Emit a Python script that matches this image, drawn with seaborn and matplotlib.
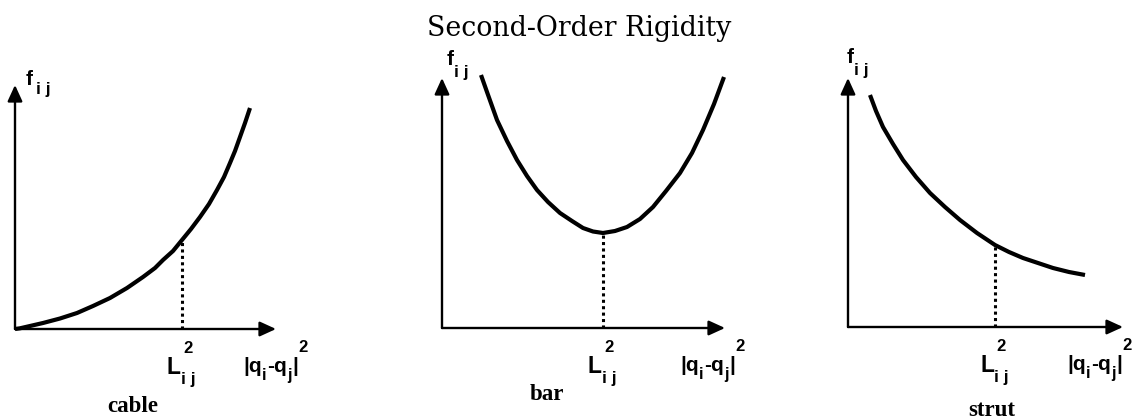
import matplotlib
matplotlib.use("Agg")
import matplotlib.pyplot as plt
import pandas as pd
import seaborn as sns

# Force response of each member type, in schematic units from the panel origin
cable_sep = [0, 5, 15, 28, 45, 62, 78, 95, 112, 128, 140, 148, 158, 167,
             176, 185, 194, 202, 209, 215, 220, 225, 230, 235]
cable_force = [0, 0.7, 3, 6, 10.5, 16, 23, 31, 41, 52, 61, 69, 78, 89,
               100, 112, 125, 139, 152, 166, 178, 192, 206, 221]

bar_sep = [39, 45, 55, 65, 75, 85, 95, 106, 118, 130, 141, 151, 161, 173,
           185, 198, 211, 224, 238, 250, 261, 272, 282]
bar_force = [253, 236, 208, 187, 168, 152, 138, 126, 115, 107, 100, 96.5, 95, 97,
             101, 109, 121, 137, 155, 175, 198, 224, 251]

strut_sep = [22, 28, 35, 45, 55, 68, 82, 97, 112, 129, 147, 161, 175, 190,
             205, 221, 237]
strut_force = [232, 216, 200, 183, 167, 150, 134, 120, 107, 94, 82, 75, 69, 64,
               59, 55, 52]

# squared rest length of each member (marked by the dotted line)
rest_sq = [167, 161, 147]
member_names = ["cable", "bar", "strut"]

title = "Second-Order Rigidity"

sns.set_theme(style="white")
LABEL_FONT = dict(family="Liberation Sans", weight="bold", color="black")

W, H = 1133, 420
fig = plt.figure(figsize=(W / 100, H / 100), dpi=100)
fig.patch.set_facecolor("white")

# panel geometry in pixels: axis origin and arrow lengths, plus label anchors
layout = [
    dict(origin=(15, 329), size=(261, 244), f_pos=(11, 244), f_sub=(10, -9),
         q_x=228, name_pos=(118, -78)),
    dict(origin=(442, 328), size=(283, 250), f_pos=(5, 263), f_sub=(7, -12),
         q_x=238, name_pos=(105, -67)),
    dict(origin=(848, 327), size=(275, 249), f_pos=(-1, 264), f_sub=(7, -12),
         q_x=219, name_pos=(144, -83)),
]

curves = [(cable_sep, cable_force), (bar_sep, bar_force), (strut_sep, strut_force)]


def compound_label(ax, x, y, pieces):
    """Draw a label built from pieces (text, dx px, dy px, size) around a baseline anchor."""
    for text, dx, dy, size in pieces:
        ax.annotate(text, xy=(x, y), xycoords="data", xytext=(dx, dy),
                    textcoords="offset pixels", ha="left", va="baseline",
                    fontsize=size, annotation_clip=False, **LABEL_FONT)


for (sep, force), geo, l2, name in zip(curves, layout, rest_sq, member_names):
    (x0, y0), (w, h) = geo["origin"], geo["size"]
    ax = fig.add_axes([x0 / W, (H - y0) / H, w / W, h / H])
    ax.set_xlim(0, w)
    ax.set_ylim(0, h)
    ax.axis("off")

    df = pd.DataFrame({"sep": sep, "force": force})
    sns.lineplot(data=df, x="sep", y="force", ax=ax, color="black", lw=3.0,
                 sort=False, estimator=None, clip_on=False)
    for line in ax.lines:
        line.set_solid_capstyle("butt")
        line.set_solid_joinstyle("round")

    # dotted marker from the axis up to the curve at the rest length
    f_rest = force[sep.index(l2)]
    ax.plot([l2, l2], [0, f_rest], color="black", lw=2.2,
            linestyle=(0, (1.0, 1.1)), clip_on=False)

    arrow = dict(arrowstyle="-|>,head_length=0.7,head_width=0.32", color="black",
                 lw=1.7, mutation_scale=14, shrinkA=0, shrinkB=0)
    ax.annotate("", xy=(w, 0), xytext=(0, 0), arrowprops=arrow, annotation_clip=False)
    ax.annotate("", xy=(0, h), xytext=(0, 0), arrowprops=arrow, annotation_clip=False)

    # f_ij beside the force axis
    fx, fy = geo["f_pos"]
    sdx, sdy = geo["f_sub"]
    compound_label(ax, fx, fy, [("f", 0, 0, 15), ("i j", sdx, sdy, 12.5)])

    # L_ij^2 under the rest-length mark
    compound_label(ax, l2, -45, [("L", -15, 0, 16.5), ("i j", -1, -10, 12.5),
                                 ("2", 1, 21, 12)])

    # |q_i - q_j|^2 at the end of the separation axis
    compound_label(ax, geo["q_x"], -43, [("|q", 0, 0, 15), ("i", 19, -8, 11.5),
                                         ("-q", 24, 0, 15), ("j", 44, -8, 11.5),
                                         ("|", 49, 0, 15), ("2", 55, 20, 12)])

    ax.text(*geo["name_pos"], name, ha="center", va="center", fontsize=16.5,
            family="Liberation Serif", weight="bold", color="black", clip_on=False)

fig.text(579 / W, 1 - 29 / H, title, ha="center", va="center", fontsize=19.3,
         family="DejaVu Serif", color="black")

fig.savefig("out.png", dpi=100, facecolor="white")
